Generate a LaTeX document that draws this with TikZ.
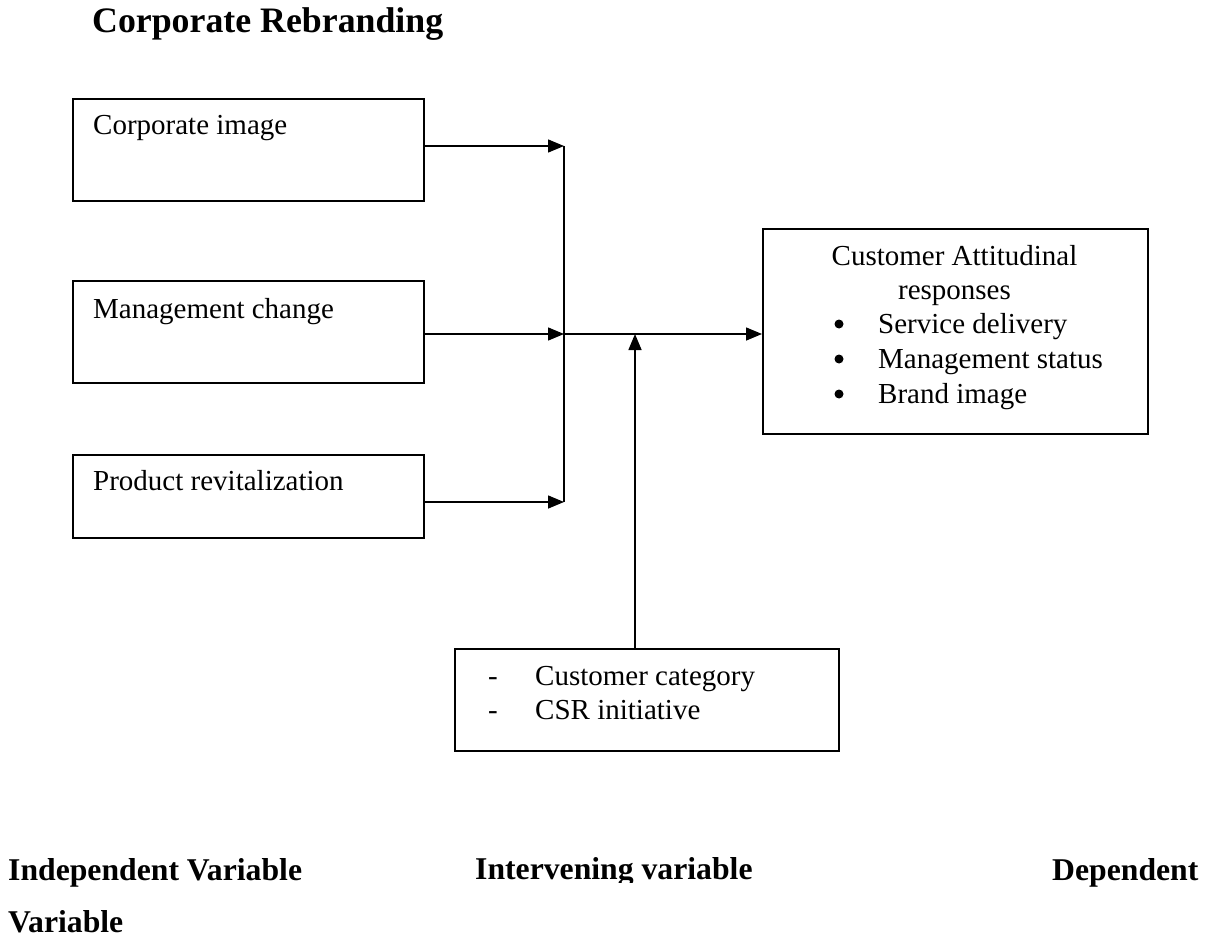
\documentclass[tikz,border=0pt]{standalone}
\usepackage{fontspec}
\setmainfont{Liberation Serif}
\usetikzlibrary{arrows.meta}
\tikzset{
  box/.style={draw, line width=1.6pt, rectangle, inner sep=0pt, anchor=north west},
  txt/.style={anchor=base west, inner sep=0pt, font=\fontsize{29}{34}\selectfont},
  ctxt/.style={anchor=base, inner sep=0pt, font=\fontsize{29}{34}\selectfont},
  btxt/.style={anchor=base west, inner sep=0pt, font=\fontsize{31.7}{38}\selectfont\bfseries},
  dot/.style={circle, fill=black, inner sep=0pt, minimum size=9pt},
  conn/.style={line width=1.5pt},
  arr/.style={line width=1.5pt, -{Triangle[length=16pt,width=13pt]}}
}
\begin{document}
\begin{tikzpicture}[x=1pt,y=-1pt]
\useasboundingbox (0,0) rectangle (1210,939);
% title
\node[anchor=base west, inner sep=0pt, font=\fontsize{35.8}{42}\selectfont\bfseries] (title) at (92,33) {Corporate Rebranding};
% boxes
\node[box, minimum width=351pt, minimum height=102pt] (ci) at (72,98) {};
\node[box, minimum width=351pt, minimum height=102pt] (mc) at (72,280) {};
\node[box, minimum width=351pt, minimum height=83pt] (pr) at (72,454) {};
\node[box, minimum width=385pt, minimum height=205pt] (car) at (762,228) {};
\node[box, minimum width=384pt, minimum height=102pt] (cv) at (454,648) {};
% box texts
\node[txt] (t1) at (93,135) {Corporate image};
\node[txt] (t2) at (93,318) {Management change};
\node[txt] (t3) at (93,490) {Product revitalization};
\node[ctxt] (r1) at (954.5,265) {Customer Attitudinal};
\node[ctxt] (r2) at (954.5,299) {responses};
\node[dot] (b1) at (839,324) {};
\node[dot] (b2) at (839,359) {};
\node[dot] (b3) at (839,394) {};
\node[txt] (i1) at (878,333) {Service delivery};
\node[txt] (i2) at (878,368) {Management status};
\node[txt] (i3) at (878,403) {Brand image};
\node[txt] (d1) at (488,685) {-};
\node[txt] (d2) at (488,719) {-};
\node[txt] (c1) at (535,685) {Customer category};
\node[txt] (c2) at (535,719) {CSR initiative};
% connectors
\coordinate (j1) at (564,146);
\coordinate (j2) at (564,334);
\coordinate (j3) at (564,502);
\coordinate (m) at (635,334);
\draw[arr] (ci.east |- j1) -- (j1);
\draw[arr] (mc.east |- j2) -- (j2);
\draw[arr] (pr.east |- j3) -- (j3);
\draw[conn] (j1) -- (j3);
\draw[arr] (j2) -- (j2 -| car.west);
\draw[arr] (cv.north -| m) -- (m);
% bottom labels
\node[btxt] (lv1) at (8,880) {Independent Variable};
\node[btxt] (lv2) at (8,932) {Variable};
\begin{scope}
\clip (400,820) rectangle (800,882);
\node[btxt] (lv3) at (475,879) {Intervening variable};
\end{scope}
\node[btxt] (lv4) at (1052,880) {Dependent};
\end{tikzpicture}
\end{document}
